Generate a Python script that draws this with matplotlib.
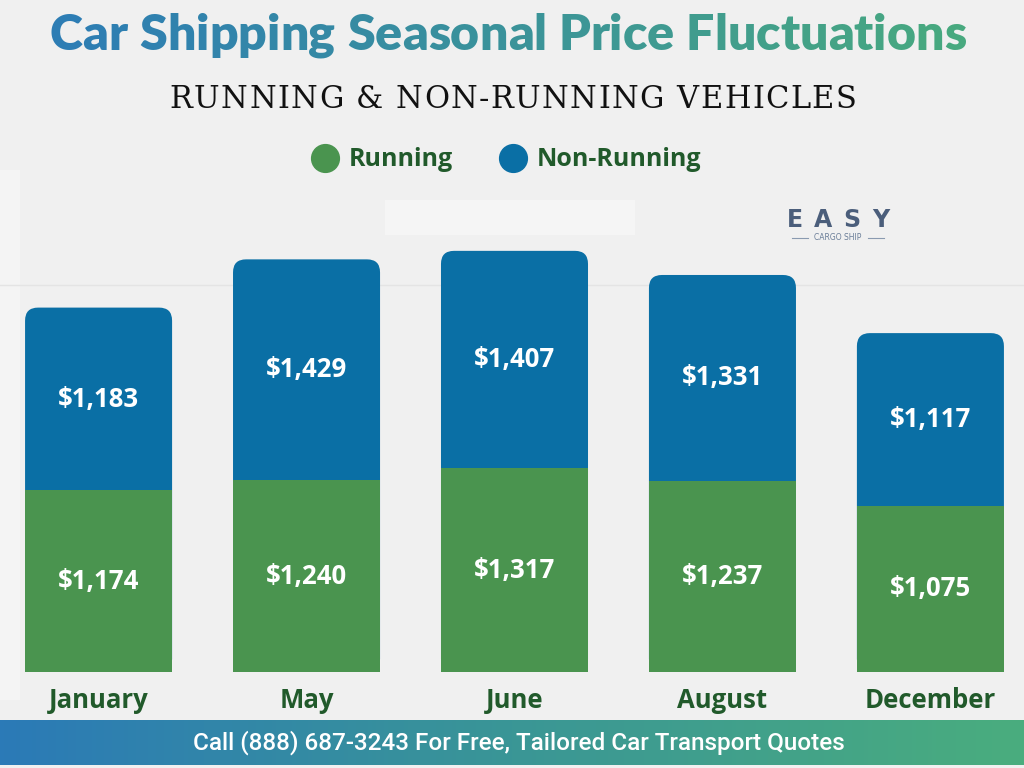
import numpy as np
import matplotlib
matplotlib.use("Agg")
import matplotlib.pyplot as plt
from matplotlib.patches import FancyBboxPatch, Rectangle
from matplotlib.lines import Line2D
from matplotlib.colors import LinearSegmentedColormap, to_rgb

# ---- data ----
months = ["January", "May", "June", "August", "December"]
running = [1174, 1240, 1317, 1237, 1075]
non_running = [1183, 1429, 1407, 1331, 1117]

title = "Car Shipping Seasonal Price Fluctuations"
subtitle = "RUNNING & NON-RUNNING VEHICLES"
banner = "Call (888) 687-3243 For Free, Tailored Car Transport Quotes"

GREEN = "#4a944f"
BLUE = "#0a6fa5"
DARK = "#215a2b"
BG = "#f0f0f0"

W, H = 1024, 768
fig = plt.figure(figsize=(W / 100, H / 100), dpi=100)
fig.patch.set_facecolor(BG)

# overlay axes in pixel coords (y down) for decorations
oax = fig.add_axes([0, 0, 1, 1], zorder=0)
oax.set_xlim(0, W)
oax.set_ylim(H, 0)
oax.axis("off")

# main chart axes
ax = fig.add_axes([0, (H - 672) / H, 1, (672 - 170) / H], zorder=1)
ax.set_facecolor("none")
ax.set_xlim(-0.474, 4.45)
ax.set_ylim(0, 3247)
for s in ax.spines.values():
    s.set_visible(False)
ax.set_yticks([])

renderer = fig.canvas.get_renderer()


def text_width(s, **kw):
    t = oax.text(0, 0, s, **kw)
    w = t.get_window_extent(renderer).width
    t.remove()
    return w


def char_text(s, x0, y, track=0.0, colors=None, target=None, **kw):
    # lay out characters one by one (for tracking / per-char colour)
    rights = []
    for i, ch in enumerate(s):
        rights.append(text_width(s[:i + 1], **kw) if ch != " " else None)
    full = rights[-1]
    n = len(s)
    if target is not None:
        track = (target - full) / (n - 1)
    total = full + track * (n - 1)
    start = x0 - total / 2
    for i, ch in enumerate(s):
        if ch == " ":
            continue
        xr = start + rights[i] + track * i
        c = colors(xr / W) if colors else kw.get("color", "k")
        kk = dict(kw)
        kk["color"] = c
        oax.text(xr, y, ch, ha="right", va="baseline", **kk)


# ---- backgrounds ----
oax.add_patch(Rectangle((0, 170), 20, 530, color="#f4f4f4", lw=0))
oax.add_patch(Rectangle((385, 200), 250, 35, color="#f5f5f5", lw=0))
oax.axhline(285, color="#e4e4e4", lw=1)

# ---- title with gradient ----
c1, c2 = np.array(to_rgb("#2c7bb6")), np.array(to_rgb("#48a97f"))
def grad(f):
    f = min(max((f * W - 50) / 916, 0), 1)
    return tuple(c1 + (c2 - c1) * f)

tprops = dict(family="Lato", fontweight="heavy", fontsize=40)
w40 = text_width(title, **tprops)
tprops["fontsize"] = 40 * 916 / w40
char_text(title, 508, 50, colors=grad, **tprops)

# subtitle, tracked serif
char_text(subtitle, 513, 108, target=687,
          family="DejaVu Serif", fontsize=22, color="#111111")

# ---- bars ----
x = np.arange(len(months))
totals = [r + n for r, n in zip(running, non_running)]
bw = 0.707
blue_bars = ax.bar(x, totals, bw, color=BLUE, zorder=2)
green_bars = ax.bar(x, running, bw, color=GREEN, zorder=3)

fig.canvas.draw()
bb = ax.get_window_extent(renderer)
px_x = bb.width / (ax.get_xlim()[1] - ax.get_xlim()[0])
px_y = bb.height / (ax.get_ylim()[1] - ax.get_ylim()[0])
aspect = px_x / px_y
r = 13 / px_x
for rect in blue_bars:
    rect.set_visible(False)
    p = FancyBboxPatch((rect.get_x(), rect.get_y()), rect.get_width(), rect.get_height(),
                       boxstyle=f"round,pad=0,rounding_size={r}", mutation_aspect=aspect,
                       fc=BLUE, ec="none", zorder=2)
    ax.add_patch(p)

lab = dict(color="white", fontsize=18.5, fontweight="bold", family="Open Sans",
           ha="center", va="center", zorder=4)
for i in range(len(months)):
    ax.text(x[i], running[i] / 2, f"${running[i]:,}", **lab)
    ax.text(x[i], running[i] + non_running[i] / 2, f"${non_running[i]:,}", **lab)

ax.set_xticks(x, months)
ax.tick_params(axis="x", length=0, pad=11)
for t in ax.get_xticklabels():
    t.set_color(DARK)
    t.set_fontsize(18.5)
    t.set_fontweight("bold")
    t.set_family("Open Sans")

# ---- legend ----
handles = [Line2D([], [], marker="o", ls="", color=GREEN, markersize=20),
           Line2D([], [], marker="o", ls="", color=BLUE, markersize=20)]
leg = fig.legend(handles, ["Running", "Non-Running"], loc="center",
                 bbox_to_anchor=(507 / W, 1 - 160 / H), ncol=2, frameon=False,
                 handlelength=1.0, handletextpad=0.45, columnspacing=1.9,
                 prop=dict(family="Open Sans", weight="bold", size=18))
for t in leg.get_texts():
    t.set_color(DARK)

# ---- logo text ----
char_text("EASY", 838, 227, target=103, family="DejaVu Sans", fontweight="bold",
          fontsize=17, color="#4b5e7b")
oax.text(838, 238, "CARGO SHIP", ha="center", va="center", fontsize=5.5,
         color="#6a7d98", family="DejaVu Sans")
oax.plot([792, 808], [238, 238], color="#8a9ab0", lw=0.8)
oax.plot([868, 884], [238, 238], color="#8a9ab0", lw=0.8)

# ---- bottom banner ----
cmap = LinearSegmentedColormap.from_list("bn", ["#2b7ab7", "#3a9696", "#4aad7e"])
oax.imshow(np.linspace(0, 1, 256)[None, :], cmap=cmap, aspect="auto",
           extent=(0, W, 765, 720), zorder=1)
oax.set_xlim(0, W)
oax.set_ylim(H, 0)
oax.text(519, 743, banner, ha="center", va="center", color="white",
         fontsize=17.5, family="Roboto", fontweight="medium", zorder=2)

fig.savefig("out.png", dpi=100, facecolor=BG)
